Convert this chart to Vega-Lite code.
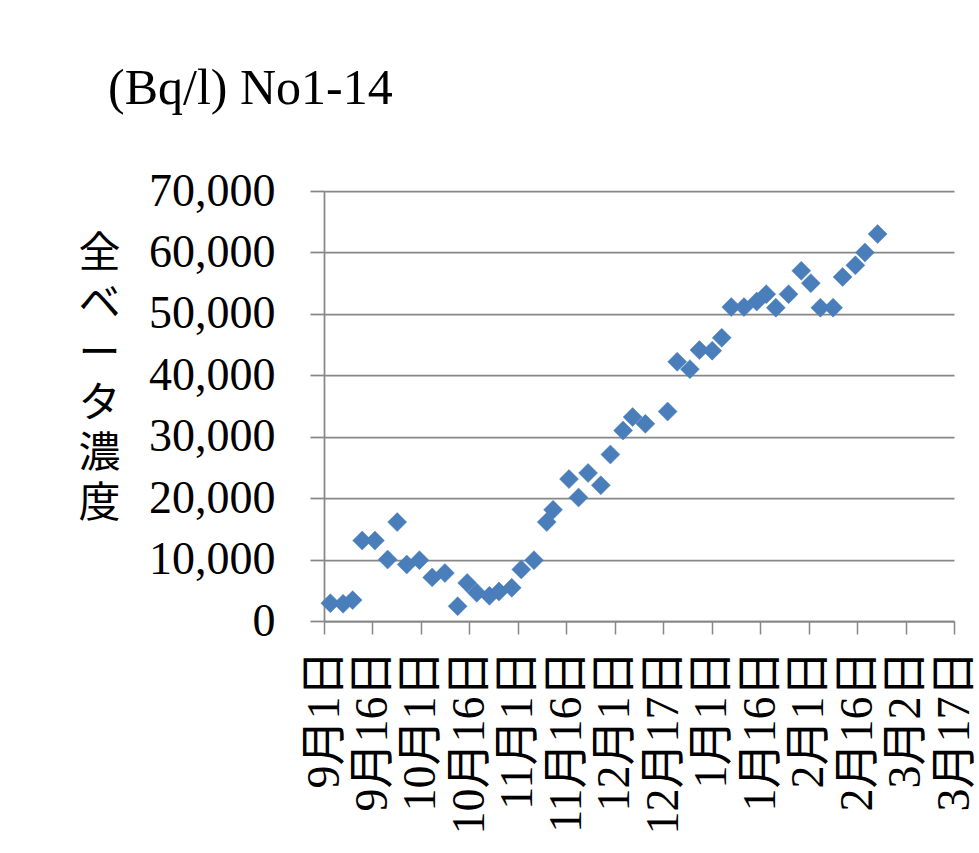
{
  "$schema": "https://vega.github.io/schema/vega-lite/v6.json",
  "width": 630,
  "height": 430,
  "autosize": {"type": "none"},
  "padding": {"left": 324, "top": 191, "right": 25, "bottom": 232},
  "background": "white",
  "title": {
    "text": "(Bq/l) No1-14",
    "anchor": "start",
    "frame": "group",
    "font": "Liberation Serif",
    "fontSize": 50,
    "fontWeight": "normal",
    "color": "black",
    "baseline": "alphabetic",
    "dx": -216,
    "offset": 14
  },
  "data": {
    "values": [
      {"date": "2011-09-03", "beta": 2900},
      {"date": "2011-09-07", "beta": 2800},
      {"date": "2011-09-10", "beta": 3400},
      {"date": "2011-09-13", "beta": 13100},
      {"date": "2011-09-17", "beta": 13100},
      {"date": "2011-09-21", "beta": 10000},
      {"date": "2011-09-24", "beta": 16100},
      {"date": "2011-09-27", "beta": 9200},
      {"date": "2011-10-01", "beta": 9900},
      {"date": "2011-10-05", "beta": 7100},
      {"date": "2011-10-09", "beta": 7800},
      {"date": "2011-10-13", "beta": 2400},
      {"date": "2011-10-16", "beta": 6200},
      {"date": "2011-10-19", "beta": 4600},
      {"date": "2011-10-23", "beta": 4100},
      {"date": "2011-10-26", "beta": 4800},
      {"date": "2011-10-30", "beta": 5400},
      {"date": "2011-11-02", "beta": 8400},
      {"date": "2011-11-06", "beta": 9900},
      {"date": "2011-11-10", "beta": 16100},
      {"date": "2011-11-12", "beta": 18100},
      {"date": "2011-11-17", "beta": 23100},
      {"date": "2011-11-20", "beta": 20100},
      {"date": "2011-11-23", "beta": 24100},
      {"date": "2011-11-27", "beta": 22100},
      {"date": "2011-11-30", "beta": 27100},
      {"date": "2011-12-04", "beta": 31000},
      {"date": "2011-12-07", "beta": 33200},
      {"date": "2011-12-11", "beta": 32100},
      {"date": "2011-12-18", "beta": 34100},
      {"date": "2011-12-21", "beta": 42200},
      {"date": "2011-12-25", "beta": 41000},
      {"date": "2011-12-28", "beta": 44100},
      {"date": "2012-01-01", "beta": 44000},
      {"date": "2012-01-04", "beta": 46100},
      {"date": "2012-01-07", "beta": 51100},
      {"date": "2012-01-11", "beta": 51100},
      {"date": "2012-01-15", "beta": 52000},
      {"date": "2012-01-18", "beta": 53200},
      {"date": "2012-01-21", "beta": 51000},
      {"date": "2012-01-25", "beta": 53200},
      {"date": "2012-01-29", "beta": 57000},
      {"date": "2012-02-01", "beta": 55000},
      {"date": "2012-02-04", "beta": 51000},
      {"date": "2012-02-08", "beta": 51000},
      {"date": "2012-02-11", "beta": 56000},
      {"date": "2012-02-15", "beta": 57900},
      {"date": "2012-02-18", "beta": 60000},
      {"date": "2012-02-22", "beta": 63000}
    ],
    "format": {"parse": {"date": "utc:'%Y-%m-%d'"}}
  },
  "mark": {"type": "point", "shape": "diamond", "filled": true, "size": 360, "color": "#4A7EBB", "opacity": 1, "stroke": "#4A7EBB", "strokeWidth": 0.5},
  "encoding": {
    "x": {
      "field": "date",
      "type": "temporal",
      "scale": {"type": "utc", "domain": [{"year": 2011, "month": 9, "date": 1, "utc": true}, {"year": 2012, "month": 3, "date": 17, "utc": true}], "nice": false},
      "axis": {
        "title": null,
        "grid": false,
        "values": [1314835200000, 1316151138462, 1317467076923, 1318783015385, 1320098953846, 1321414892308, 1322730830769, 1324046769231, 1325362707692, 1326678646154, 1327994584615, 1329310523077, 1330626461538, 1331942400000],
        "labelExpr": "['9月1日','9月16日','10月1日','10月16日','11月1日','11月16日','12月1日','12月17日','1月1日','1月16日','2月1日','2月16日','3月2日','3月17日'][round((datum.value - 1314835200000) / 1315938461.538)]",
        "labelAngle": 270,
        "labelFont": "Liberation Serif, Noto Sans CJK JP",
        "labelFontSize": 46,
        "labelColor": "black",
        "labelPadding": 16,
        "labelLimit": 0,
        "labelOverlap": false,
        "labelBound": false,
        "labelFlush": false,
        "tickSize": 13,
        "tickWidth": 1.5,
        "tickColor": "#878787",
        "domainColor": "#878787",
        "domainWidth": 1.75
      }
    },
    "y": {
      "field": "beta",
      "type": "quantitative",
      "scale": {"domain": [0, 70000], "nice": false},
      "axis": {
        "title": ["全", "ベ", "ー", "タ", "濃", "度"],
        "titleAngle": 0,
        "titleFont": "Liberation Serif, Noto Sans CJK JP",
        "titleFontSize": 42,
        "titleFontWeight": "normal",
        "titleLineHeight": 50,
        "titleColor": "black",
        "titleAlign": "center",
        "titleBaseline": "top",
        "titleX": -225,
        "titleY": 42,
        "values": [0, 10000, 20000, 30000, 40000, 50000, 60000, 70000],
        "format": ",d",
        "labelFont": "Liberation Serif",
        "labelFontSize": 46,
        "labelColor": "black",
        "labelPadding": 35,
        "labelLimit": 0,
        "labelBound": false,
        "labelFlush": false,
        "labelOverlap": false,
        "tickSize": 14,
        "tickWidth": 1.75,
        "tickColor": "#878787",
        "domainColor": "#878787",
        "domainWidth": 1.75,
        "gridColor": "#878787",
        "gridWidth": 1.75
      }
    }
  },
  "config": {
    "view": {"stroke": null}
  }
}
